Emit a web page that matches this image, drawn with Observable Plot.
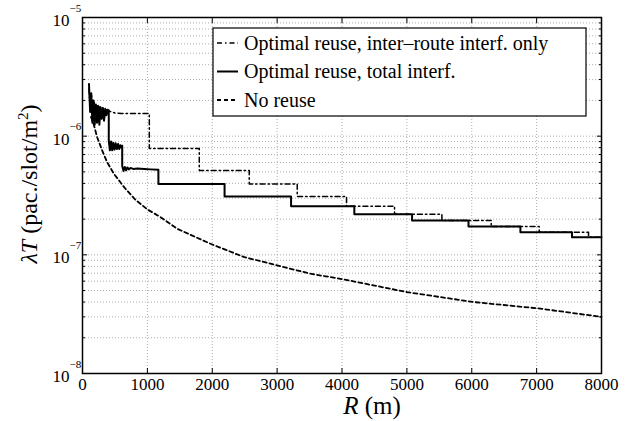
<!DOCTYPE html>
<html><head><meta charset="utf-8">
<script src="https://cdn.jsdelivr.net/npm/d3@7"></script>
<script src="https://cdn.jsdelivr.net/npm/@observablehq/plot@0.6"></script>
<style>
body{margin:0;background:#fff}
#chart{width:635px;height:421px}
</style>
</head><body><div id="chart"></div>
<script>
// ---------- data ----------
const seriesNames = ["Optimal reuse, inter\u2013route interf. only", "Optimal reuse, total interf.", "No reuse"];

// Optimal reuse, inter-route interference only (dash-dot)
const interOscR = [100,120,140,160,180,200,222,245,268,290,350,420,500,600];
const interOscV = [2.5e-6,1.7e-6,2.2e-6,1.45e-6,1.95e-6,1.45e-6,1.85e-6,1.5e-6,1.78e-6,1.75e-6,1.68e-6,1.62e-6,1.57e-6,1.55e-6];
const interStepR = [1030,1800,2570,3310,4070,4810,5540,6300,7040,7800,8000];
const interStepV = [7.87e-7,5.14e-7,3.95e-7,3.1e-7,2.57e-7,2.2e-7,1.95e-7,1.73e-7,1.55e-7,1.41e-7];

// Optimal reuse, total interference (solid)
const totalOscR = [100,118,135,152,170,188,206,224,242,260,278,296,314,332,350,368,386,405,
  405,422,440,458,476,494,512,530,548,566,584,600,612,
  612,632,652,672,692,715,740,780,850,950,1050,1170];
const totalOscV = [2.75e-6,1.6e-6,2.3e-6,1.3e-6,2.0e-6,1.25e-6,1.85e-6,1.3e-6,1.8e-6,1.25e-6,1.75e-6,1.4e-6,1.72e-6,1.35e-6,1.7e-6,1.5e-6,1.67e-6,1.65e-6,
  9.2e-7,7.6e-7,9.0e-7,7.6e-7,8.8e-7,7.7e-7,8.7e-7,7.8e-7,8.6e-7,7.8e-7,8.4e-7,8.0e-7,8.3e-7,
  5.6e-7,5.1e-7,5.5e-7,5.15e-7,5.45e-7,5.25e-7,5.4e-7,5.3e-7,5.35e-7,5.3e-7,5.25e-7,5.2e-7];
const totalStepR = [1170,2190,3215,4190,5080,5950,6750,7545,8000];
const totalStepV = [3.95e-7,3.1e-7,2.57e-7,2.2e-7,1.95e-7,1.73e-7,1.55e-7,1.41e-7];

// No reuse (dashed)
const noReuseR = [130,164,226,303,380,483,662,817,997,1202,1459,1972,2486,3000,3513,4000,5003,6030,7057,8000];
const noReuseV = [1.45e-6,1.31e-6,9.8e-7,7.58e-7,6.04e-7,4.82e-7,3.6e-7,2.91e-7,2.42e-7,2.08e-7,1.66e-7,1.24e-7,9.6e-8,8.15e-8,6.93e-8,6.25e-8,4.85e-8,4.0e-8,3.52e-8,3.0e-8];

// ticks
const xTicks = [0,1000,2000,3000,4000,5000,6000,7000,8000];
const yMajor = [1e-8,1e-7,1e-6,1e-5];
const yExponents = ["\u22128","\u22127","\u22126","\u22125"];
const yMinorMult = [2,3,4,5,6,7,8,9];

// ---------- build tables ----------
function stepPoints(R, V) {
  const pts = [];
  for (let i = 0; i < V.length; i++) {
    pts.push({R: R[i], v: V[i]});
    pts.push({R: R[i+1], v: V[i]});
  }
  return pts;
}
const interData = interOscR.map((R,i)=>({R, v: interOscV[i]}))
  .concat([{R: interStepR[0], v: interOscV[interOscV.length-1]}])
  .concat(stepPoints(interStepR, interStepV));
const totalData = totalOscR.map((R,i)=>({R, v: totalOscV[i]}))
  .concat(stepPoints(totalStepR, totalStepV));
const noReuseData = noReuseR.map((R,i)=>({R, v: noReuseV[i]}));

const yMinor = [];
for (const m of yMajor.slice(0,3)) for (const k of yMinorMult) yMinor.push(m*k);
const yAll = yMajor.concat(yMinor);

const styles = [
  {stroke:"black", strokeWidth:1.5, strokeDasharray:"5,3,1.5,3"},
  {stroke:"black", strokeWidth:2, strokeDasharray:null},
  {stroke:"black", strokeWidth:1.8, strokeDasharray:"4,3"}
];

const FF = "Liberation Serif";

const plot = Plot.plot({
  width: 635, height: 421,
  marginLeft: 82, marginRight: 34, marginTop: 17, marginBottom: 48,
  style: {fontFamily: FF, fontSize: "17px", color: "black", background: "white"},
  x: {domain: [0, 8000]},
  y: {type: "log", domain: [1e-8, 1e-5]},
  marks: [
    Plot.ruleX(xTicks.slice(1, -1), {x: d=>d, stroke:"#999", strokeWidth:0.8, strokeDasharray:"1,2"}),
    Plot.ruleY(yAll.slice(1).filter(d=>d<1e-5), {y: d=>d, stroke:"#999", strokeWidth:0.8, strokeDasharray:"1,2"}),
    // inward tick marks
    Plot.axisX(xTicks, {anchor:"bottom", tickSize:-5, tickFormat:()=>"", label:null}),
    Plot.axisX(xTicks, {anchor:"top", tickSize:-5, tickFormat:()=>"", label:null}),
    Plot.axisY(yMajor, {anchor:"left", tickSize:-5, tickFormat:()=>"", label:null}),
    Plot.axisY(yMajor, {anchor:"right", tickSize:-5, tickFormat:()=>"", label:null}),
    Plot.axisY(yMinor, {anchor:"left", tickSize:-3, tickFormat:()=>"", label:null}),
    Plot.axisY(yMinor, {anchor:"right", tickSize:-3, tickFormat:()=>"", label:null}),
    // tick labels
    Plot.text(xTicks, {x:d=>d, frameAnchor:"bottom", text:d=>String(d), textAnchor:"middle", dy:16, fontSize:17, fontFamily:FF}),
    Plot.text(yMajor, {y:d=>d, frameAnchor:"left", text:()=>"10", textAnchor:"end", dx:-13, dy:3, fontSize:17, fontFamily:FF}),
    Plot.text(yMajor, {y:d=>d, frameAnchor:"left", text:(d,i)=>yExponents[i], textAnchor:"start", dx:-13, dy:-9.5, fontSize:11, fontFamily:FF}),
    // series
    Plot.line(noReuseData, {x:"R", y:"v", ...styles[2]}),
    Plot.line(interData, {x:"R", y:"v", ...styles[0]}),
    Plot.line(totalData, {x:"R", y:"v", ...styles[1]}),
    Plot.frame({stroke:"black", strokeWidth:1.5})
  ]
});
document.getElementById("chart").appendChild(plot);

const svg = d3.select(plot);
// axis titles
const xl = svg.append("text").attr("x", 372).attr("y", 414).attr("text-anchor","middle")
  .attr("font-size", 25).attr("fill","black");
xl.append("tspan").attr("font-style","italic").text("R");
xl.append("tspan").text(" (m)");

const yl = svg.append("text").attr("transform","translate(37,184) rotate(-90)").attr("text-anchor","middle")
  .attr("font-size", 24).attr("fill","black");
yl.append("tspan").attr("font-style","italic").text("\u03bbT");
yl.append("tspan").text(" (pac./slot/m");
yl.append("tspan").attr("dy",-9).attr("font-size", 15).text("2");
yl.append("tspan").attr("dy",9).text(")");

// legend
const lg = svg.append("g");
lg.append("rect").attr("x",213).attr("y",28).attr("width",373).attr("height",88)
  .attr("fill","white").attr("stroke","black").attr("stroke-width",1.2);
seriesNames.forEach((name,i)=>{
  const cy = 43 + i*28.5;
  const s = styles[i];
  lg.append("line").attr("x1",217).attr("x2",238).attr("y1",cy).attr("y2",cy)
    .attr("stroke","black").attr("stroke-width", s.strokeWidth)
    .attr("stroke-dasharray", s.strokeDasharray);
  lg.append("text").attr("x",244).attr("y",cy+6.5).attr("text-anchor","start").text(name)
    .attr("font-size", 20).attr("fill","black");
});

svg.attr("font-family", FF).style("font-family", FF);
svg.selectAll("g, text, tspan").attr("font-family", FF).style("font-family", FF);
</script>
</body></html>
